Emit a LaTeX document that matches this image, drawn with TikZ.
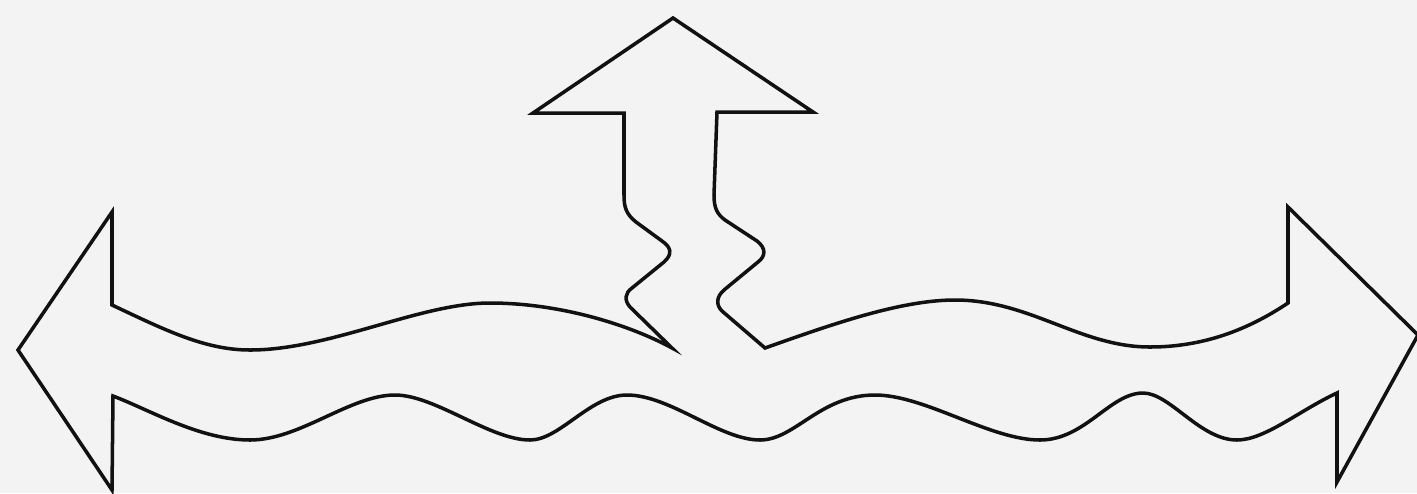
\documentclass[tikz,border=0pt]{standalone}
\usepackage{tikz}
\usetikzlibrary{calc}
\definecolor{paper}{HTML}{F3F3F3}
\definecolor{ink}{HTML}{111111}

\begin{document}
\begin{tikzpicture}[
                x=0.01cm, y=-0.01cm,
                outline/.style={draw=ink, line width=1pt, line join=miter, line cap=round},
                ]

                % ── Canvas ──
                \fill[paper] (0,0) rectangle (1417,493);
                \useasboundingbox (0,0) rectangle (1417,493);

                % ── Arrow heads ──
                \coordinate (Ltip) at (18,350);
                \coordinate (Ltop) at (112,212);
                \coordinate (Lbot) at (112,490);
                \coordinate (Utip) at (673,18);
                \coordinate (Uleft) at (533,113);
                \coordinate (Uright) at (813,112);
                \coordinate (Rtip) at (1418,335);
                \coordinate (Rtop) at (1288,207);
                \coordinate (Rbot) at (1337,482);

                % ── Outline: left head, wavy top, wavy stem, right head, wavy bottom ──
                \draw[outline]
                    (Ltip) -- (Ltop) -- (112,305)
                    % upper edge, left part
                    .. controls (165,330) and (205,350) .. (250,350)
                    .. controls (330,350) and (420,303) .. (490,303)
                    .. controls (560,303) and (630,325) .. (672,348)
                    % stem, left side
                    -- (630,307)
                    .. controls (624,300) and (625,293) .. (632,288)
                    -- (664,262)
                    .. controls (673,254) and (671,247) .. (662,241)
                    -- (636,222)
                    .. controls (626,214) and (624,207) .. (624,195)
                    -- (624,113) -- (Uleft) -- (Utip) -- (Uright) -- (717,112)
                    % stem, right side
                    -- (714,195)
                    .. controls (714,208) and (717,214) .. (725,220)
                    -- (757,241)
                    .. controls (766,248) and (766,256) .. (758,262)
                    -- (724,290)
                    .. controls (716,297) and (716,305) .. (722,311)
                    -- (765,348)
                    % upper edge, right part
                    .. controls (830,325) and (900,300) .. (955,300)
                    .. controls (1030,300) and (1080,347) .. (1150,347)
                    .. controls (1210,347) and (1255,325) .. (1288,303)
                    -- (Rtop) -- (Rtip) -- (Rbot) -- (1337,393)
                    % lower edge, right to left
                    .. controls (1300,410) and (1265,440) .. (1237,440)
                    .. controls (1200,440) and (1170,393) .. (1143,393)
                    .. controls (1110,393) and (1085,440) .. (1040,440)
                    .. controls (990,440) and (925,395) .. (875,395)
                    .. controls (820,395) and (795,440) .. (760,440)
                    .. controls (720,440) and (670,395) .. (627,395)
                    .. controls (590,395) and (560,440) .. (530,440)
                    .. controls (490,440) and (435,395) .. (395,395)
                    .. controls (350,395) and (300,440) .. (250,440)
                    .. controls (200,440) and (150,410) .. (113,396)
                    -- (Lbot) -- cycle;

\end{tikzpicture}
\end{document}
